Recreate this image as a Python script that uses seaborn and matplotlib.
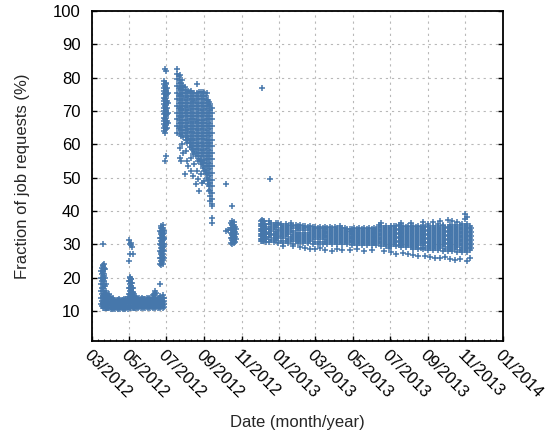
import numpy as np
import pandas as pd
import matplotlib
matplotlib.use("Agg")
import matplotlib.pyplot as plt
import matplotlib.dates as mdates
from matplotlib.ticker import AutoMinorLocator
import seaborn as sns

# ---------------- data (days since 2012-03-01, values in %) ----------------
start_date = "2012-03-01"

early_days = [16, 17, 18, 19, 20, 21, 22, 23, 24, 25, 26]
early_vals = [
    [12, 14, 16, 18, 20, 22],
    [11.5, 13, 15, 17, 19, 21, 23],
    [12, 14, 16, 18, 20, 22, 23.5],
    [11, 12.5, 14.5, 17, 19.5, 21.5, 23.8, 30],
    [11, 13, 15, 18, 20.5, 22.5, 24],
    [11.5, 12.5, 14, 16, 19, 21, 23],
    [11, 12, 13.5, 15, 17.5, 20, 22.5],
    [11, 12, 13, 14.5, 16, 18],
    [10.8, 12, 13, 14, 15.5],
    [11, 12, 13.5, 14.8],
    [10.8, 11.8, 12.8, 14],
]

plateau1_days = [27, 29, 31, 33, 35, 37, 39, 41, 43, 45, 47, 49, 51, 53, 55, 57, 59]
plateau1_vals = [
    [10.8, 11.7, 12.6, 13.5, 14.6], [11.0, 11.9, 12.8, 13.8, 15.0],
    [10.6, 11.5, 12.4, 13.3, 14.2], [10.9, 11.8, 12.7, 13.6],
    [10.7, 11.6, 12.5, 13.3, 14.0], [10.8, 11.7, 12.6, 13.2],
    [10.6, 11.5, 12.4, 13.1], [10.9, 11.8, 12.7, 13.4],
    [10.7, 11.6, 12.5, 13.2], [10.8, 11.7, 12.6, 13.5],
    [10.6, 11.5, 12.4, 13.3], [10.9, 11.8, 12.7, 13.4],
    [10.7, 11.6, 12.5, 13.2], [10.8, 11.7, 12.6, 13.6],
    [10.6, 11.5, 12.4, 13.3], [10.9, 11.8, 12.7, 13.5],
    [10.7, 11.6, 12.5, 13.4, 14.2],
]

spike_days = [61, 62, 63, 64, 65, 66, 67, 68, 69, 70, 71]
spike_vals = [
    [11.5, 13, 15, 17, 19, 25, 31.2],
    [11, 12.5, 14, 16, 18, 19.8, 27.2],
    [11.2, 13, 15, 17, 19, 20.2, 30.2],
    [11.5, 13.5, 15.5, 17.5, 19.5, 29.8],
    [11, 12.5, 14.5, 16.5, 18.5, 19.7, 30.5],
    [11.5, 13, 15, 17, 18.5, 29.2],
    [11, 12.5, 14, 15.5, 17, 27],
    [11.3, 12.8, 14.2, 15.8],
    [11, 12.3, 13.6, 15],
    [11.2, 12.5, 13.8, 14.6],
    [11, 12, 13.2, 14.2],
]

plateau2_days = [72, 74, 76, 78, 80, 82, 84, 86, 88, 90, 92, 94, 96, 98, 100,
                 102, 104, 106, 108, 110, 112, 114, 116, 118]
plateau2_vals = [
    [11.0, 12.0, 13.0, 14.0], [11.2, 12.1, 13.0, 13.9], [10.9, 11.9, 12.8, 13.7],
    [11.1, 12.0, 12.9, 13.8], [11.0, 11.9, 12.8, 13.6], [11.2, 12.1, 13.0, 13.9],
    [10.9, 11.8, 12.7, 13.5], [11.1, 12.0, 12.9, 13.7], [11.0, 11.9, 12.8, 13.6],
    [11.2, 12.1, 13.0, 13.8], [10.9, 11.8, 12.7, 13.6], [11.1, 12.0, 12.9, 13.9],
    [11.0, 11.9, 12.8, 13.7], [11.2, 12.1, 13.0, 14.0], [10.9, 11.8, 12.7, 13.8, 14.8],
    [11.1, 12.0, 12.9, 13.9, 15.2], [11.0, 11.9, 12.8, 13.9, 15.0, 16.0],
    [11.2, 12.1, 13.0, 14.0, 15.3], [10.9, 11.8, 12.7, 13.6], [11.1, 12.0, 12.9, 13.8],
    [11.0, 11.9, 12.8, 13.7, 14.6, 18.2], [11.2, 12.1, 13.0, 14.0],
    [10.9, 11.8, 12.7, 13.8, 14.9], [11.1, 12.0, 12.9, 13.8],
]

june_days = [112, 113, 114, 115, 116, 117, 118, 119]
june_vals = [
    [24, 26, 28, 30, 32, 34],
    [25, 27, 29, 31, 33, 35],
    [23.8, 25.8, 27.8, 29.8, 31.8, 33.8, 35.5],
    [24.8, 26.8, 28.8, 30.8, 32.8, 34.8],
    [24.2, 26.2, 28.2, 30.2, 32.2, 34.2, 35.7],
    [25.2, 27.2, 29.2, 31.2, 33.2, 35.0],
    [26, 28, 30, 32, 34],
    [29.5, 31.5, 33.5],
]

july_days = [118, 119, 120, 121, 122, 123, 124]
july_vals = [
    [64, 66, 68, 70, 72, 74, 76, 78],
    [65, 67, 69, 71, 73, 75, 77, 79],
    [63.5, 65.5, 67.5, 69.5, 71.5, 73.5, 75.5, 77.5, 82.5, 55],
    [64.5, 66.5, 68.5, 70.5, 72.5, 74.5, 76.5, 78.3, 56.5],
    [66, 68, 70, 72, 74, 76, 78, 82],
    [65, 67, 69, 71, 73, 75, 77],
    [66.5, 69.5, 72.5, 75.5],
]

summer_days = [140, 142, 144, 146, 148, 150, 152, 154, 156, 158, 160, 162, 164,
               166, 168, 170, 172, 174, 176, 178, 180, 182, 184, 186, 188, 190,
               192, 194, 196, 197]
summer_vals = [
    [63.5, 65.5, 67.5, 69.5, 71.5, 73.5, 75.5, 77.5, 79.5, 81.2, 82.5],
    [64.5, 66.4, 68.6, 70.5, 72.4, 74.6, 76.5, 78.4, 80.5],
    [63.2, 65.3, 67.2, 69.3, 71.2, 73.3, 75.2, 77.3, 79.2, 80.8, 59, 56],
    [62.6, 64.3, 66.4, 68.3, 70.4, 72.3, 74.4, 76.3, 78.4, 55],
    [63.4, 65.5, 67.4, 69.5, 71.4, 73.5, 75.4, 77.5, 79.4, 60],
    [62.2, 64.4, 66.5, 68.4, 70.5, 72.4, 74.5, 76.4, 77.6, 57.5],
    [63.4, 65.3, 67.4, 69.3, 71.4, 73.3, 75.4, 77.2, 51],
    [61.2, 62.4, 64.4, 66.3, 68.4, 70.3, 72.4, 74.3, 76.2, 58],
    [60.3, 61.4, 63.3, 65.4, 67.3, 69.4, 71.3, 73.4, 75.4, 55],
    [61.5, 62.6, 64.5, 66.4, 68.5, 70.4, 72.5, 74.4, 76, 53.5],
    [59.2, 60.4, 61.5, 63.6, 65.5, 67.6, 69.5, 71.6, 73.5, 75.6],
    [60.3, 62.4, 64.5, 66.6, 68.5, 70.6, 72.5, 74.6, 76, 56, 52],
    [58.5, 59.6, 61.5, 63.6, 65.5, 67.6, 69.5, 71.6, 73.5, 75.4],
    [57.2, 58.4, 60.4, 62.5, 64.6, 66.5, 68.6, 70.5, 72.6, 74.5, 50.5],
    [57.6, 59.5, 61.4, 63.5, 65.4, 67.5, 69.4, 71.5, 73.4, 75.5, 54],
    [56.5, 58.5, 60.5, 62.6, 64.5, 66.6, 68.5, 70.6, 72.5, 74.6, 48],
    [57.3, 59.4, 61.5, 63.4, 65.5, 67.4, 69.5, 71.4, 73.5, 75.4, 78, 52],
    [55, 56.4, 58.5, 60.4, 62.5, 64.4, 66.5, 68.4, 70.5, 72.4, 74.5, 49.5],
    [55.6, 57.5, 59.4, 61.5, 63.4, 65.5, 67.4, 69.5, 71.4, 73.5, 75.6, 46],
    [54, 55.4, 56.5, 58.4, 60.5, 62.4, 64.5, 66.4, 68.5, 70.4, 72.5, 74.4, 75.8, 51],
    [54.6, 57.5, 59.4, 61.5, 63.4, 65.5, 67.4, 69.5, 71.4, 73.5, 48.5],
    [53, 54.4, 56.5, 58.4, 60.5, 62.4, 64.5, 66.4, 68.5, 70.4, 72.5, 74.4, 75.8],
    [52, 53.5, 55.4, 57.5, 59.4, 61.5, 63.4, 65.5, 67.4, 69.5, 71.4, 73.5, 75.4, 49],
    [51, 52.4, 54.5, 56.4, 58.5, 60.4, 62.5, 64.4, 66.5, 68.4, 70.5, 72.4, 74.5],
    [50, 51.5, 53.4, 55.5, 57.4, 59.5, 61.4, 63.5, 65.4, 67.5, 69.4, 71.5, 73.4, 75.5],
    [48, 49.4, 51.5, 53.4, 55.5, 57.4, 59.5, 61.4, 63.5, 65.4, 67.5, 69.4, 71.5, 73.4],
    [46, 47.5, 49.4, 51.5, 53.4, 55.5, 57.4, 59.5, 61.4, 63.5, 65.4, 67.5, 69.4, 71.5, 72.8],
    [43, 44.5, 46.4, 48.5, 50.4, 52.5, 54.4, 56.5, 58.4, 60.5, 62.4, 64.5, 66.4, 68.5, 70.4, 72],
    [42, 43.5, 45.4, 47.5, 49.4, 51.5, 53.4, 55.5, 57.4, 59.5, 61.4, 63.5, 65.4, 67.5, 69.4, 70.8],
    [38, 36.5, 41.5],
]

autumn_days = [219, 220, 222, 228, 229, 230, 231, 232, 233, 234, 235]
autumn_vals = [
    [48], [34], [34.2],
    [30.5, 32, 33.5, 35, 36.5],
    [31.2, 32.7, 34.2, 35.7, 37],
    [30.2, 31.8, 33.2, 34.8, 36.2, 41.5],
    [31, 32.5, 34, 35.5],
    [30.5, 32, 33.5, 35, 36.8],
    [31.3, 32.8, 34.3, 35.8],
    [30.8, 32.2, 33.8, 35.2],
    [31.5, 33, 34.5],
]

december_days = [276, 277, 278, 279, 280, 281, 282, 283, 284, 285, 292]
december_vals = [
    [31, 32.5, 34, 35.5, 37],
    [31.7, 33.2, 34.7, 36.2],
    [31.0, 32.5, 34.0, 35.5, 37.3],
    [31.7, 33.2, 34.7, 36.2, 77],
    [31, 32.5, 34, 35.5, 36.9],
    [31.7, 33.2, 34.7, 36.2],
    [31, 32.5, 34, 35.5, 37],
    [31.7, 33.2, 34.7, 36.2],
    [30.8, 32.3, 33.8, 35.3],
    [31.5, 33, 34.5],
    [49.5],
]

band_days = [289, 293, 297, 301, 305, 309, 313, 317, 321, 325, 329, 333, 337, 341,
             345, 349, 353, 357, 361, 365, 369, 373, 377, 381, 385, 389, 393, 397,
             401, 405, 409, 413, 417, 421, 425, 429, 433, 437, 441, 445, 449, 453,
             457, 461, 465, 469, 473, 477, 481, 485, 489, 493, 497, 501, 505, 509,
             513, 517, 521, 525, 529, 533, 537, 541, 545, 549, 553, 557, 561, 565,
             569, 573, 577, 581, 585, 589, 593, 597, 601, 605, 609, 613, 617, 619]
band_vals = [
    [30.8, 32.1, 33.4, 34.7, 36.0, 36.9], [31.4, 32.7, 34.0, 35.3, 36.5],
    [30.6, 31.9, 33.2, 34.5, 35.8], [31.2, 32.5, 33.8, 35.1, 36.3],
    [30.5, 31.8, 33.1, 34.4, 35.7, 36.4], [31.1, 32.4, 33.7, 35.0, 36.0],
    [30.5, 31.8, 33.1, 34.4, 35.6, 29.6], [31.1, 32.4, 33.7, 35.0, 36.1],
    [30.4, 31.7, 33.0, 34.3, 35.5], [31.0, 32.3, 33.6, 34.9, 35.9, 36.5],
    [30.2, 31.5, 32.8, 34.1, 35.4, 29.4], [30.9, 32.2, 33.5, 34.8, 35.7],
    [30.3, 31.6, 32.9, 34.2, 35.5], [30.9, 32.2, 33.5, 34.8, 35.8, 29.2],
    [30.3, 31.6, 32.9, 34.2, 35.4], [30.9, 32.2, 33.5, 34.8, 35.6, 28.8],
    [30.3, 31.6, 32.9, 34.2, 35.3], [30.9, 32.2, 33.5, 34.7, 35.6, 28.6],
    [30.2, 31.5, 32.8, 34.1, 35.2], [30.8, 32.1, 33.4, 34.6, 35.3, 28.5],
    [30.2, 31.5, 32.8, 34.0, 35.0], [30.8, 32.1, 33.4, 34.5, 35.3, 29.0],
    [30.2, 31.5, 32.7, 33.9, 34.9], [30.8, 32.1, 33.3, 34.5, 35.2, 28.2],
    [30.1, 31.4, 32.6, 33.8, 34.9], [30.7, 32.0, 33.2, 34.4, 35.3],
    [30.1, 31.4, 32.6, 33.8, 34.8, 28.0], [30.7, 31.9, 33.1, 34.3, 35.2],
    [30.0, 31.3, 32.5, 33.7, 34.9, 28.6], [30.6, 31.9, 33.1, 34.3, 35.4],
    [30.0, 31.2, 32.4, 33.6, 34.8, 28.3], [30.6, 31.8, 33.0, 34.2, 35.0],
    [30.0, 31.2, 32.4, 33.6, 34.6], [30.6, 31.8, 33.0, 34.1, 34.7, 28.4],
    [29.9, 31.1, 32.3, 33.5, 34.5], [30.5, 31.7, 32.9, 34.1, 34.8],
    [29.9, 31.1, 32.3, 33.5, 34.6, 28.5], [30.5, 31.7, 32.9, 34.1, 34.8],
    [29.8, 31.0, 32.2, 33.4, 34.5], [30.4, 31.6, 32.8, 34.0, 34.9, 28.0],
    [29.8, 31.0, 32.2, 33.4, 34.6], [30.4, 31.6, 32.8, 34.0, 35.0],
    [29.7, 30.9, 32.1, 33.3, 34.5, 28.2], [30.3, 31.5, 32.7, 33.9, 35.0],
    [29.7, 30.9, 32.1, 33.3, 34.6], [30.3, 31.5, 32.7, 33.9, 35.1, 35.8],
    [29.6, 30.8, 32.0, 33.2, 34.4, 35.5, 36.3], [30.2, 31.4, 32.6, 33.8, 35.0, 28.0],
    [29.6, 30.8, 32.0, 33.2, 34.4, 35.4], [30.1, 31.3, 32.5, 33.7, 34.9, 29.0],
    [29.5, 30.7, 31.9, 33.1, 34.3, 35.5, 27.6], [30.0, 31.2, 32.4, 33.6, 34.8, 35.6],
    [29.4, 30.6, 31.8, 33.0, 34.2, 35.4, 27.2], [29.9, 31.1, 32.3, 33.5, 34.7, 35.8],
    [29.3, 30.5, 31.7, 32.9, 34.1, 35.3, 36.5], [29.8, 31.0, 32.2, 33.4, 34.6, 35.6, 27.5],
    [29.2, 30.4, 31.6, 32.8, 34.0, 35.2], [29.7, 30.9, 32.1, 33.3, 34.5, 35.6, 27.0],
    [29.1, 30.3, 31.5, 32.7, 33.9, 35.1, 36.4], [28.7, 29.7, 30.9, 32.1, 33.3, 34.5, 35.6, 26.7],
    [29.1, 30.3, 31.5, 32.7, 33.9, 35.1], [28.6, 29.7, 30.9, 32.1, 33.3, 34.5, 35.5, 26.4],
    [29.0, 30.3, 31.5, 32.7, 33.9, 35.1], [28.5, 29.7, 30.9, 32.1, 33.3, 34.5, 35.6, 36.8],
    [29.0, 30.3, 31.5, 32.7, 33.9, 35.1, 26.6], [28.4, 29.6, 30.8, 32.0, 33.2, 34.4, 35.6, 36.2],
    [28.9, 30.2, 31.4, 32.6, 33.8, 35.0, 26.2], [28.3, 29.6, 30.8, 32.0, 33.2, 34.4, 35.6, 36.6],
    [28.9, 30.2, 31.4, 32.6, 33.8, 35.0, 26.0], [28.2, 29.5, 30.7, 31.9, 33.1, 34.3, 35.5, 36.1],
    [28.8, 30.1, 31.3, 32.5, 33.7, 34.9, 36.9, 25.8], [28.1, 29.4, 30.6, 31.8, 33.0, 34.2, 35.4, 35.9],
    [28.7, 30.0, 31.2, 32.4, 33.6, 34.8, 26.3], [28.0, 29.3, 30.5, 31.7, 32.9, 34.1, 35.3, 37.2],
    [28.6, 29.9, 31.1, 32.3, 33.5, 34.7, 35.9, 25.5], [27.9, 29.2, 30.4, 31.6, 32.8, 34.0, 35.2, 37.0],
    [28.5, 29.8, 31.0, 32.2, 33.4, 34.6, 35.8, 25.2], [27.8, 29.1, 30.3, 31.5, 32.7, 33.9, 35.1, 36.8],
    [28.4, 29.7, 30.9, 32.1, 33.3, 34.5, 35.7, 25.6], [27.7, 29.0, 30.2, 31.4, 32.6, 33.8, 35.0, 36.2],
    [28.3, 29.6, 30.8, 32.0, 33.2, 34.4, 35.6, 37.5, 39.0], [27.7, 29.0, 30.2, 31.4, 32.6, 33.8, 35.0, 36.0, 38.2, 25.0],
    [28.3, 29.6, 30.8, 32.0, 33.2, 34.4, 35.6, 25.8], [28.8, 30.0, 31.2, 32.4, 33.6, 34.8],
]

x_tick_labels_fmt = "%m/%Y"
x_label = "Date (month/year)"
y_label = "Fraction of job requests (%)"

# ---------------- assemble ----------------
segments = [
    (early_days, early_vals), (plateau1_days, plateau1_vals),
    (spike_days, spike_vals), (plateau2_days, plateau2_vals),
    (june_days, june_vals), (july_days, july_vals),
    (summer_days, summer_vals), (autumn_days, autumn_vals),
    (december_days, december_vals), (band_days, band_vals),
]
rows = []
for days, vals in segments:
    for d, vs in zip(days, vals):
        for v in vs:
            rows.append((d, v))
df = pd.DataFrame(rows, columns=["day", "value"])
df["date"] = pd.Timestamp(start_date) + pd.to_timedelta(df["day"], unit="D")

# ---------------- plot ----------------
sns.set_theme(style="white")
plt.rcParams["font.family"] = ["Liberation Sans", "DejaVu Sans"]

fig = plt.figure(figsize=(5.52, 4.33), dpi=100)
ax = fig.add_axes([0.1658, 0.2125, 0.7449, 0.7621])

color = "#4677ab"
sns.scatterplot(data=df, x="date", y="value", marker="+", s=18,
                linewidth=1.1, color=color, ax=ax, legend=False, zorder=3)

ax.set_xlim(pd.Timestamp("2012-03-01"), pd.Timestamp("2014-01-01"))
ax.set_ylim(1, 100)
ax.set_yticks(np.arange(10, 101, 10))

ax.xaxis.set_major_locator(mdates.MonthLocator(bymonth=[1, 3, 5, 7, 9, 11]))
ax.xaxis.set_major_formatter(mdates.DateFormatter(x_tick_labels_fmt))
ax.xaxis.set_minor_locator(AutoMinorLocator(6))

ax.grid(True, which="major", color="#b8b8b8", linestyle=(0, (2, 3.5)), linewidth=0.8, zorder=0)
ax.set_axisbelow(True)

for sp in ax.spines.values():
    sp.set_color("black")
    sp.set_linewidth(1.3)

ax.tick_params(axis="both", which="major", direction="in", length=3.5, width=1,
               color="black", labelsize=12, labelcolor="black")
ax.tick_params(axis="x", which="major", pad=5, top=False, bottom=True)
ax.tick_params(axis="x", which="minor", direction="in", length=1.5, width=0.8,
               top=False, bottom=True)
ax.tick_params(axis="y", which="major", pad=8, left=True, right=True)

for lab in ax.get_xticklabels():
    lab.set_rotation(-45)
    lab.set_ha("left")
    lab.set_va("top")
    lab.set_rotation_mode("anchor")

ax.set_xlabel(x_label, fontsize=12, labelpad=10)
ax.set_ylabel(y_label, fontsize=12, labelpad=16)

fig.savefig("out.png", dpi=100)
